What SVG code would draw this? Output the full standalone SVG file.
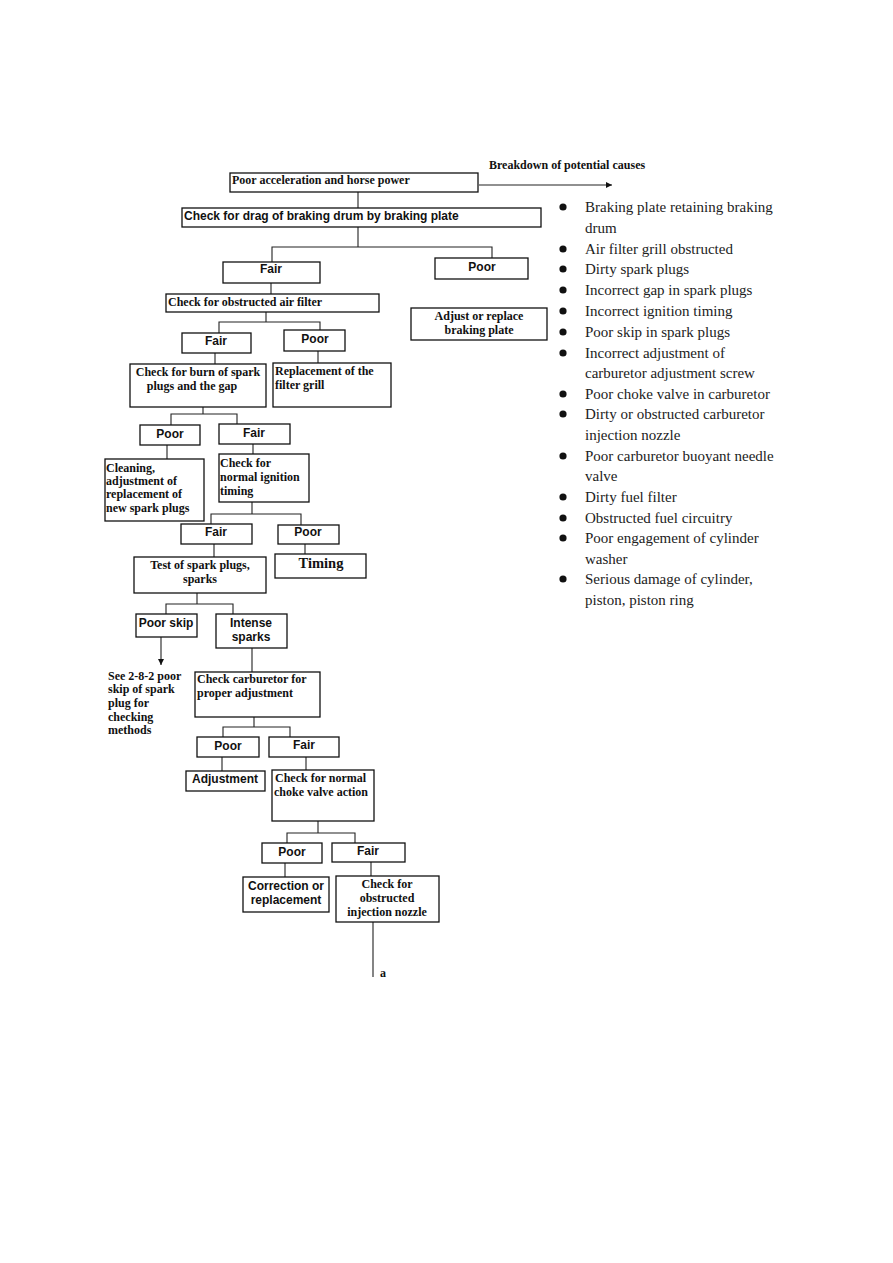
<svg xmlns="http://www.w3.org/2000/svg" width="893" height="1263" viewBox="0 0 893 1263">
<style>
.b{fill:#fff;stroke:#111;stroke-width:1.3}
.c{fill:none;stroke:#222;stroke-width:1.1}
.s{font-family:"Liberation Serif","Times New Roman",serif;font-weight:bold;font-size:12px;fill:#111}
.h{font-family:"Liberation Sans",Arial,sans-serif;font-weight:bold;font-size:12px;fill:#111}
.m{text-anchor:middle}
.l{font-family:"Liberation Serif","Times New Roman",serif;font-size:15px;fill:#222}
</style>
<defs>
<marker id="ar" markerWidth="8" markerHeight="8" refX="6" refY="3" orient="auto" markerUnits="userSpaceOnUse"><path d="M0,0 L6,3 L0,6 z" fill="#111"/></marker>
</defs>
<rect width="893" height="1263" fill="#fff"/>
<g id="connectors">
<path class="c" d="M479,185H612" marker-end="url(#ar)"/>
<path class="c" d="M358,192V208M358,227V247M272,262V247H492V258"/>
<path class="c" d="M271,283V294M266,312V322M219,333V322H320V330"/>
<path class="c" d="M215,353V364M318,351V363"/>
<path class="c" d="M203,407V414M171,425V414H237V424"/>
<path class="c" d="M167,445V459M253,444V454"/>
<path class="c" d="M252,502V514M211,524V514H301V525"/>
<path class="c" d="M214,544V557M305,544V554"/>
<path class="c" d="M197,593V604M166,614V604H233V614"/>
<path class="c" d="M161,637V665" marker-end="url(#ar)"/>
<path class="c" d="M252,648V672M254,717V727M223,737V727H290V737"/>
<path class="c" d="M222,757V771M306,757V770"/>
<path class="c" d="M318,821V833M287,843V833H355V843"/>
<path class="c" d="M285,863V877M371,862V876M373,922V977"/>
</g>
<g id="n1"><rect class="b" x="230" y="173" width="248" height="19"/><text class="s" x="232" y="184">Poor acceleration and horse power</text></g>
<g id="breakdown"><text class="s" x="489" y="169">Breakdown of potential causes</text></g>
<g id="n2"><rect class="b" x="182" y="208" width="359" height="19"/><text class="h" x="184" y="219.5">Check for drag of braking drum by braking plate</text></g>
<g id="n3"><rect class="b" x="223" y="262" width="97" height="21"/><text class="h m" x="271" y="272.5">Fair</text></g>
<g id="n4"><rect class="b" x="435" y="258" width="93" height="21"/><text class="h m" x="482" y="270.5">Poor</text></g>
<g id="n5"><rect class="b" x="411" y="308" width="136" height="32"/><text class="s m" x="479" y="319.5">Adjust or replace</text><text class="s m" x="479" y="333.5">braking plate</text></g>
<g id="n6"><rect class="b" x="166" y="294" width="213" height="18"/><text class="s" x="168" y="306">Check for obstructed air filter</text></g>
<g id="n7"><rect class="b" x="182" y="333" width="69" height="20"/><text class="h m" x="216" y="344.5">Fair</text></g>
<g id="n8"><rect class="b" x="284" y="330" width="61" height="21"/><text class="h m" x="315" y="342.5">Poor</text></g>
<g id="n9"><rect class="b" x="130" y="364" width="136" height="43"/><text class="s m" x="198" y="375.5">Check for burn of spark</text><text class="s m" x="192" y="389.5">plugs and the gap</text></g>
<g id="n10"><rect class="b" x="273" y="363" width="118" height="44"/><text class="s" x="275" y="374.5">Replacement of the</text><text class="s" x="275" y="388.5">filter grill</text></g>
<g id="n11"><rect class="b" x="140" y="425" width="60" height="20"/><text class="h m" x="170" y="437.5">Poor</text></g>
<g id="n12"><rect class="b" x="219" y="424" width="71" height="20"/><text class="h m" x="254" y="436.5">Fair</text></g>
<g id="n13"><rect class="b" x="105" y="459" width="99" height="62"/><text class="s" x="106" y="471.5">Cleaning,</text><text class="s" x="106" y="484.5">adjustment of</text><text class="s" x="106" y="497.5">replacement of</text><text class="s" x="106" y="511.5">new spark plugs</text></g>
<g id="n14"><rect class="b" x="219" y="454" width="90" height="48"/><text class="s" x="220" y="466.5">Check for</text><text class="s" x="220" y="480.5">normal ignition</text><text class="s" x="220" y="494.5">timing</text></g>
<g id="n15"><rect class="b" x="181" y="524" width="71" height="20"/><text class="h m" x="216" y="535.5">Fair</text></g>
<g id="n16"><rect class="b" x="278" y="525" width="61" height="19"/><text class="h m" x="308" y="535.5">Poor</text></g>
<g id="n17"><rect class="b" x="134" y="557" width="132" height="36"/><text class="s m" x="200" y="568.5">Test of spark plugs,</text><text class="s m" x="200" y="582.5">sparks</text></g>
<g id="n18"><rect class="b" x="275" y="554" width="91" height="24"/><text class="s m" x="321" y="567.5" style="font-size:14.5px">Timing</text></g>
<g id="n19"><rect class="b" x="136" y="614" width="61" height="23"/><text class="h m" x="166" y="626.5">Poor skip</text></g>
<g id="n20"><rect class="b" x="216" y="614" width="71" height="34"/><text class="h m" x="251" y="626.5">Intense</text><text class="h m" x="251" y="640.5">sparks</text></g>
<g id="n21"><text class="s" x="108" y="679.5">See 2-8-2 poor</text><text class="s" x="108" y="692.5">skip of spark</text><text class="s" x="108" y="706.5">plug for</text><text class="s" x="108" y="720.5">checking</text><text class="s" x="108" y="733.5">methods</text></g>
<g id="n22"><rect class="b" x="195" y="672" width="125" height="45"/><text class="s" x="197" y="682.5">Check carburetor for</text><text class="s" x="197" y="696.5">proper adjustment</text></g>
<g id="n23"><rect class="b" x="197" y="737" width="62" height="20"/><text class="h m" x="228" y="749.5">Poor</text></g>
<g id="n24"><rect class="b" x="269" y="737" width="70" height="20"/><text class="h m" x="304" y="748.5">Fair</text></g>
<g id="n25"><rect class="b" x="186" y="771" width="79" height="20"/><text class="h m" x="225" y="782.5">Adjustment</text></g>
<g id="n26"><rect class="b" x="272" y="770" width="102" height="51"/><text class="s" x="275" y="781.5">Check for normal</text><text class="s" x="274" y="795.5">choke valve action</text></g>
<g id="n27"><rect class="b" x="262" y="843" width="60" height="20"/><text class="h m" x="292" y="855.5">Poor</text></g>
<g id="n28"><rect class="b" x="332" y="843" width="73" height="19"/><text class="h m" x="368" y="854.5">Fair</text></g>
<g id="n29"><rect class="b" x="243" y="877" width="86" height="35"/><text class="h m" x="286" y="889.5">Correction or</text><text class="h m" x="286" y="903.5">replacement</text></g>
<g id="n30"><rect class="b" x="336" y="876" width="103" height="46"/><text class="s m" x="387" y="887.5">Check for</text><text class="s m" x="387" y="901.5">obstructed</text><text class="s m" x="387" y="915.5">injection nozzle</text></g>
<g id="label-a"><text class="s" x="380" y="976.5">a</text></g>
<g id="causes">
<g fill="#111"><circle cx="563" cy="207" r="3.6"/><circle cx="563" cy="249" r="3.6"/><circle cx="563" cy="269" r="3.6"/><circle cx="563" cy="290" r="3.6"/><circle cx="563" cy="311" r="3.6"/><circle cx="563" cy="332" r="3.6"/><circle cx="563" cy="353" r="3.6"/><circle cx="563" cy="394" r="3.6"/><circle cx="563" cy="414" r="3.6"/><circle cx="563" cy="456" r="3.6"/><circle cx="563" cy="497" r="3.6"/><circle cx="563" cy="518" r="3.6"/><circle cx="563" cy="538" r="3.6"/><circle cx="563" cy="579" r="3.6"/></g>
<text class="l" x="585" y="212">Braking plate retaining braking</text>
<text class="l" x="585" y="233">drum</text>
<text class="l" x="585" y="254">Air filter grill obstructed</text>
<text class="l" x="585" y="274">Dirty spark plugs</text>
<text class="l" x="585" y="295">Incorrect gap in spark plugs</text>
<text class="l" x="585" y="316">Incorrect ignition timing</text>
<text class="l" x="585" y="337">Poor skip in spark plugs</text>
<text class="l" x="585" y="358">Incorrect adjustment of</text>
<text class="l" x="585" y="378">carburetor adjustment screw</text>
<text class="l" x="585" y="399">Poor choke valve in carburetor</text>
<text class="l" x="585" y="419">Dirty or obstructed carburetor</text>
<text class="l" x="585" y="440">injection nozzle</text>
<text class="l" x="585" y="461">Poor carburetor buoyant needle</text>
<text class="l" x="585" y="481">valve</text>
<text class="l" x="585" y="502">Dirty fuel filter</text>
<text class="l" x="585" y="523">Obstructed fuel circuitry</text>
<text class="l" x="585" y="543">Poor engagement of cylinder</text>
<text class="l" x="585" y="564">washer</text>
<text class="l" x="585" y="584">Serious damage of cylinder,</text>
<text class="l" x="585" y="605">piston, piston ring</text>
</g>
</svg>
